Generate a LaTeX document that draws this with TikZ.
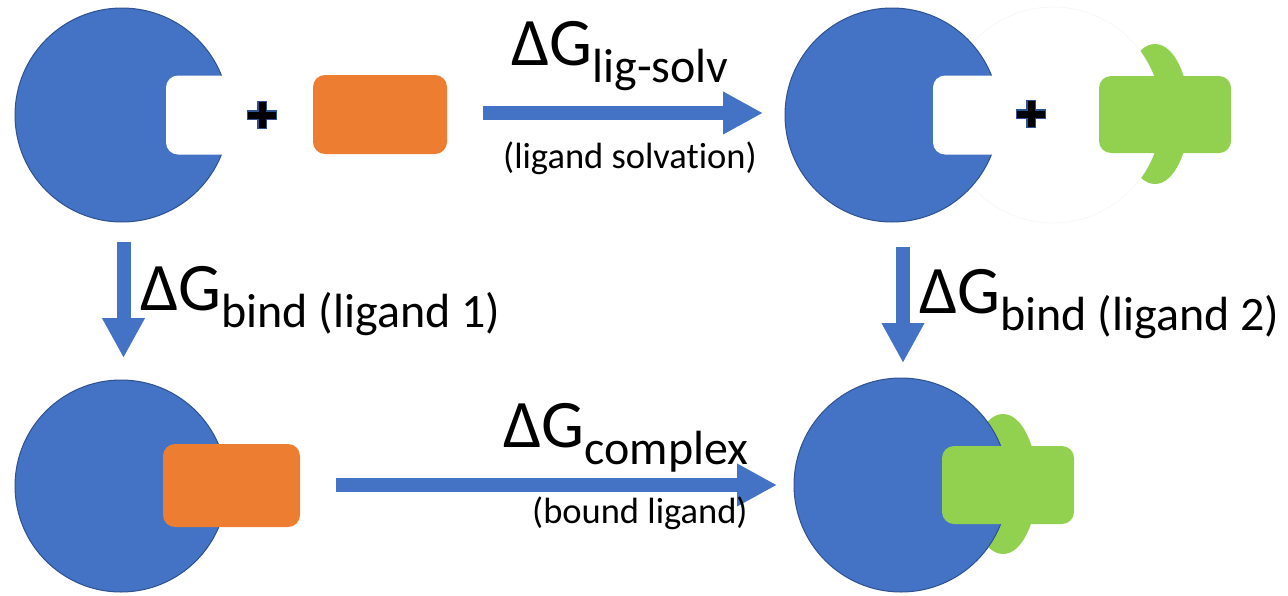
\documentclass[tikz,border=0pt]{standalone}
\usepackage{fontspec}
\setmainfont{Carlito}[Ligatures={NoCommon}]
\usetikzlibrary{arrows.meta,shapes.geometric}
\definecolor{pblue}{HTML}{4472C4}
\definecolor{pedge}{HTML}{2F528F}
\definecolor{lorange}{HTML}{ED7D31}
\definecolor{lgreen}{HTML}{92D050}
\newcommand{\dglabel}[1]{{\fontsize{68}{68}\selectfont ΔG}{\fontsize{48}{48}\selectfont\raisebox{-17pt}{#1}}}
\newcommand{\smalllabel}[1]{{\fontsize{36.5}{36.5}\selectfont #1}}
\begin{document}
\begin{tikzpicture}[x=1pt,y=-1pt,
  protein/.style={circle, fill=pblue, draw=pedge, line width=1pt, minimum size=214pt, inner sep=0pt},
  pocket/.style={rectangle, rounded corners=12pt, fill=white, minimum width=132pt, minimum height=79pt, inner sep=0pt},
  ligone/.style={rectangle, rounded corners=12pt, fill=lorange, minimum width=134pt, minimum height=79pt, inner sep=0pt},
  ligtwo/.style={rectangle, rounded corners=12pt, fill=lgreen, minimum width=132pt, minimum height=77pt, inner sep=0pt},
  lobe/.style={ellipse, fill=lgreen, minimum width=68pt, minimum height=140pt, inner sep=0pt},
  ghost/.style={circle, fill=white, draw=black!4, line width=0.6pt, minimum size=216pt, inner sep=0pt},
  plussign/.pic={\draw[pedge, line width=10pt] (-15,0)--(15,0) (0,-14)--(0,14);
                 \draw[black, line width=7pt] (-14,0)--(14,0) (0,-13)--(0,13);},
  bigarrow/.style={pblue, line width=14pt, -{Triangle[width=40pt,length=40pt]}},
  lbl/.style={inner sep=0pt, anchor=base west, text=black}
]
\useasboundingbox (0,0) rectangle (1288,595);

% ---- top left: protein + ligand 1
\node[protein] (pTL) at (122,115) {};
\node[pocket] (kTL) at (232,115) {};
\pic at (262,115) {plussign};
\node[ligone] (lTL) at (380,114.5) {};

% ---- top right: protein + ligand 2
\node[lobe] (eTR) at (1155,114) {};
\node[ghost] (gTR) at (1053,115) {};
\node[protein] (pTR) at (892,115) {};
\node[pocket] (kTR) at (999,115) {};
\pic at (1031,114) {plussign};
\node[ligtwo] (lTR) at (1165,114.5) {};

% ---- bottom left: complex 1
\node[protein, minimum size=212pt] (pBL) at (121,486) {};
\node[ligone, minimum width=137pt, minimum height=83pt] (lBL) at (231.5,485.5) {};

% ---- bottom right: complex 2
\node[lobe] (eBR) at (1003,484) {};
\node[protein] (pBR) at (901,485) {};
\node[ligtwo, minimum height=78pt] (lBR) at (1008,485) {};

% ---- arrows
\coordinate (aTs) at (483,113);   \coordinate (aTe) at (763,113);
\coordinate (aBs) at (336,485);   \coordinate (aBe) at (777,485);
\coordinate (aLs) at (123.5,242); \coordinate (aLe) at (123.5,358);
\coordinate (aRs) at (903,247);   \coordinate (aRe) at (903,363);
\draw[bigarrow] (aTs) -- (aTe);
\draw[bigarrow] (aBs) -- (aBe);
\draw[bigarrow] (aLs) -- (aLe);
\draw[bigarrow] (aRs) -- (aRe);

% ---- labels
\node[lbl] (tTop) at (511,65) {\dglabel{lig-solv}};
\node[lbl] (sTop) at (503,168) {\smalllabel{(ligand solvat\kern0pt ion)}};
\node[lbl] (tBot) at (503,447) {\dglabel{complex}};
\node[lbl] (sBot) at (532,523) {\smalllabel{(bound ligand)}};
\node[lbl] (tLeft) at (140,310) {\dglabel{bind (ligand 1)}};
\node[lbl] (tRight) at (919,313) {\dglabel{bind (ligand 2)}};
\end{tikzpicture}
\end{document}
